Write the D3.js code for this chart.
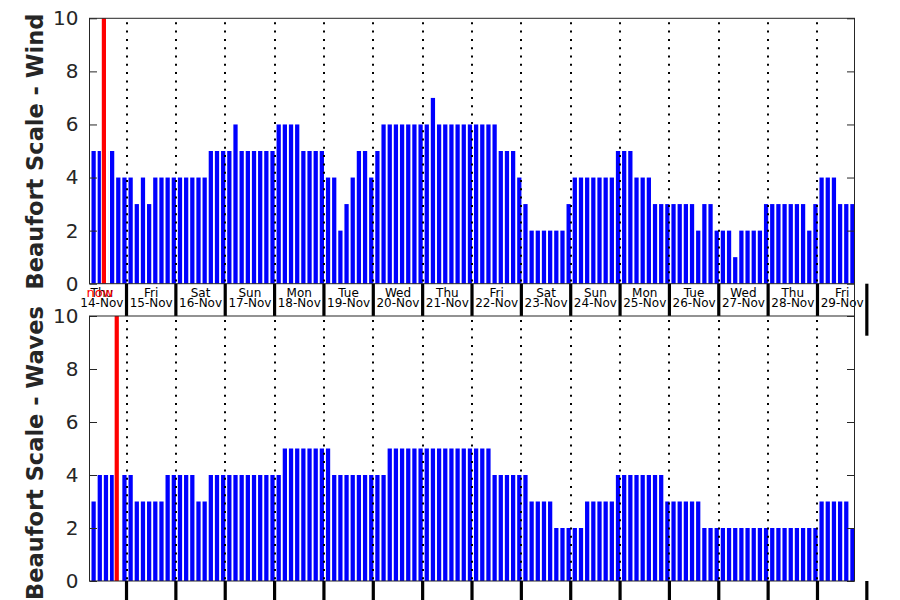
<!DOCTYPE html>
<html>
<head>
<meta charset="utf-8">
<script src="https://cdn.jsdelivr.net/npm/d3@7/dist/d3.min.js"></script>
<style>
  html, body { margin: 0; padding: 0; background: #fff; }
  svg { display: block; font-family: "DejaVu Sans", sans-serif; }
</style>
</head>
<body>
<svg id="chart" width="900" height="600"></svg>
<script>
// ---------------- data ----------------
const firstBarTime = "2024-11-14T08:00:00Z";   // first forecast step
const stepHours = 3;                            // forecast interval
const windBeaufort = [
  5,5,5,5,4,4,4,3,4,3, 4,4,4,4,4,4,4,4,4,5, 5,5,5,6,5,5,5,5,5,5,
  6,6,6,6,5,5,5,5,4,4, 2,3,4,5,5,4,5,6,6,6, 6,6,6,6,6,7,6,6,6,6,
  6,6,6,6,6,6,5,5,5,4, 3,2,2,2,2,2,2,3,4,4, 4,4,4,4,4,5,5,5,4,4,
  4,3,3,3,3,3,3,3,2,3, 3,2,2,2,1,2,2,2,2,3, 3,3,3,3,3,3,2,3,4,4,
  4,3,3,3
];
const wavesBeaufort = [
  3,4,4,4,4,4,4,3,3,3, 3,3,4,4,4,4,4,3,3,4, 4,4,4,4,4,4,4,4,4,4,
  4,5,5,5,5,5,5,5,5,4, 4,4,4,4,4,4,4,4,5,5, 5,5,5,5,5,5,5,5,5,5,
  5,5,5,5,5,4,4,4,4,4, 4,3,3,3,3,2,2,2,2,2, 3,3,3,3,3,4,4,4,4,4,
  4,4,4,3,3,3,3,3,3,2, 2,2,2,2,2,2,2,2,2,2, 2,2,2,2,2,2,2,2,3,3,
  3,3,3,2
];
const dayNames  = ["Thu","Fri","Sat","Sun","Mon","Tue","Wed","Thu","Fri","Sat","Sun","Mon","Tue","Wed","Thu","Fri"];
const dayDates  = ["14-Nov","15-Nov","16-Nov","17-Nov","18-Nov","19-Nov","20-Nov","21-Nov","22-Nov","23-Nov","24-Nov","25-Nov","26-Nov","27-Nov","28-Nov","29-Nov"];
const yTicks = [0, 2, 4, 6, 8, 10];
const nowWind  = "2024-11-14T13:00:00Z";
const nowWaves = "2024-11-14T19:15:00Z";
const panelTitles = ["Beaufort Scale - Wind", "Beaufort Scale - Waves"];

// ---------------- layout ----------------
const W = 900, H = 600;
const left = 89.5, right = 854.5;
const panels = [
  { title: panelTitles[0], values: windBeaufort,  now: nowWind,  top: 18.3, bottom: 283.7, labels: true,  titleY: 151.5 },
  { title: panelTitles[1], values: wavesBeaufort, now: nowWaves, top: 316,  bottom: 581,   labels: false, titleY: 453 }
];
const axisColor = "#262626";
const HOUR = 3600 * 1000;

const t0 = new Date(firstBarTime);
const times = windBeaufort.map((_, i) => new Date(t0.getTime() + i * stepHours * HOUR));
const domainStart = new Date(Date.UTC(2024, 10, 14, 6));
const domainEnd   = new Date(Date.UTC(2024, 10, 29, 18));
const x = d3.scaleUtc().domain([domainStart, domainEnd]).range([left, right]);
const dayStarts = dayDates.map((_, i) => new Date(Date.UTC(2024, 10, 14 + i)));
const dayBounds = d3.range(1, dayDates.length + 1).map(i => new Date(Date.UTC(2024, 10, 14 + i))); // 15-Nov .. 30-Nov
const barW = (x(new Date(t0.getTime() + stepHours * HOUR)) - x(t0)) * 0.69;

const svg = d3.select("#chart");
svg.append("rect").attr("width", W).attr("height", H).attr("fill", "#fff");

panels.forEach((p, pi) => {
  const y = d3.scaleLinear().domain([0, 10]).range([p.bottom, p.top]);
  const g = svg.append("g");

  // background of the axes (covers overhanging ticks of the panel above)
  g.append("rect").attr("x", left).attr("y", p.top).attr("width", right - left).attr("height", p.bottom - p.top).attr("fill", "#fff");

  // bars
  g.append("g").selectAll("rect").data(p.values).join("rect")
    .attr("x", (d, i) => x(times[i]) - barW / 2)
    .attr("y", d => y(d))
    .attr("width", barW)
    .attr("height", d => y(0) - y(d))
    .attr("fill", "#0000ff");

  // "now" line with white halo
  const xn = x(new Date(p.now));
  g.append("rect").attr("x", xn - 3).attr("y", p.top).attr("width", 7.5).attr("height", p.bottom - p.top).attr("fill", "#fff");
  g.append("line").attr("x1", xn).attr("x2", xn).attr("y1", p.top).attr("y2", p.bottom)
    .attr("stroke", "#ff0000").attr("stroke-width", 4.2);

  // dotted day separators
  g.append("g").selectAll("line").data(dayBounds.filter(d => d < domainEnd)).join("line")
    .attr("x1", d => Math.round(x(d))).attr("x2", d => Math.round(x(d)))
    .attr("y1", p.top + 4).attr("y2", p.bottom)
    .attr("stroke", "#000").attr("stroke-width", 2).attr("stroke-dasharray", "2,6.3");

  // y axes (left + mirrored right, inward ticks)
  const yl = d3.axisLeft(y).tickValues(yTicks).tickSize(-7.5).tickPadding(11).tickFormat(d3.format("d"));
  const ya = g.append("g").attr("transform", `translate(${left},0)`).call(yl);
  ya.select(".domain").remove();
  ya.selectAll("line").attr("stroke", axisColor);
  ya.selectAll("text").attr("font-size", 20).attr("fill", axisColor).attr("font-family", "DejaVu Sans, sans-serif");
  const yr = d3.axisRight(y).tickValues(yTicks).tickSize(-7.5).tickFormat("");
  const yra = g.append("g").attr("transform", `translate(${right},0)`).call(yr);
  yra.select(".domain").remove();
  yra.selectAll("line").attr("stroke", axisColor);

  // frame
  g.append("rect").attr("x", left).attr("y", p.top).attr("width", right - left).attr("height", p.bottom - p.top)
    .attr("fill", "none").attr("stroke", axisColor).attr("stroke-width", 1);

  // day labels
  if (p.labels) {
    const lab = g.append("g").selectAll("text").data(dayStarts).join("text")
      .attr("x", d => x(new Date(d.getTime() + 12 * HOUR)))
      .attr("text-anchor", "middle").attr("font-size", 12).attr("fill", "#000");
    lab.append("tspan").attr("y", 296.5).attr("x", d => x(new Date(d.getTime() + 12 * HOUR))).text((d, i) => dayNames[i]);
    lab.append("tspan").attr("y", 307).attr("x", d => x(new Date(d.getTime() + 12 * HOUR))).text((d, i) => dayDates[i]);
    g.append("line").attr("x1", right).attr("x2", right).attr("y1", p.bottom).attr("y2", 316)
      .attr("stroke", axisColor).attr("stroke-width", 1);
    g.append("text").attr("x", xn - 4).attr("y", 297).attr("text-anchor", "middle")
      .attr("font-size", 13).attr("fill", "#ff0000").text("now");
  }

  // thick day ticks hanging below the axis
  g.append("g").selectAll("line").data(dayBounds).join("line")
    .attr("x1", d => x(d)).attr("x2", d => x(d))
    .attr("y1", p.bottom).attr("y2", p.bottom + 52)
    .attr("stroke", "#000").attr("stroke-width", 3.2);

  // y title
  g.append("text").attr("transform", `translate(43,${p.titleY}) rotate(-90)`)
    .attr("text-anchor", "middle").attr("font-size", 22.5).attr("font-weight", "bold")
    .attr("fill", axisColor).text(p.title);
});
</script>
</body>
</html>
